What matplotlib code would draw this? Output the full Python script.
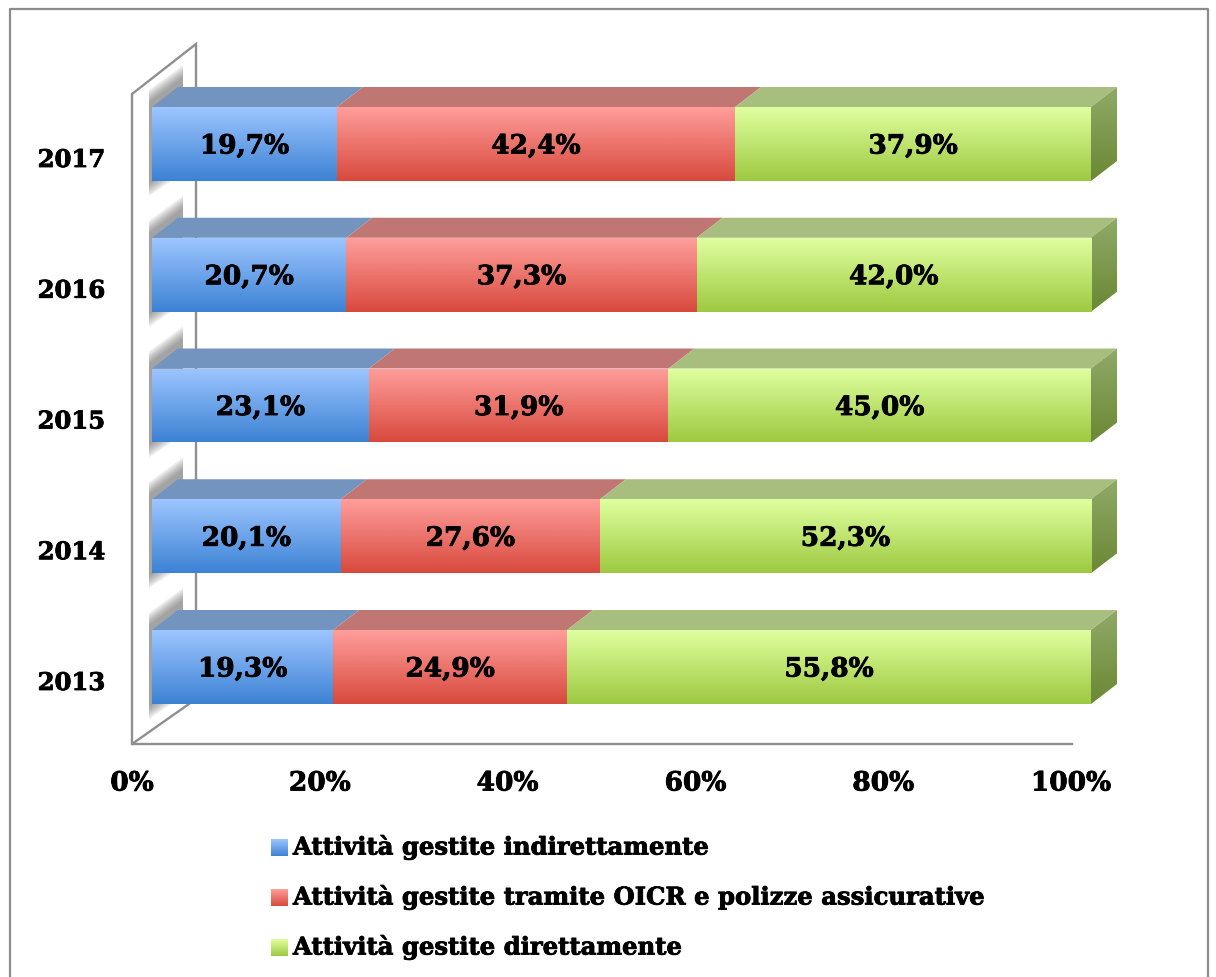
import numpy as np
import matplotlib
matplotlib.use("Agg")
import matplotlib.pyplot as plt
import matplotlib.patheffects as pe
from matplotlib.patches import Polygon, Rectangle
from matplotlib.lines import Line2D
from matplotlib.colors import LinearSegmentedColormap

# data
years = ["2013", "2014", "2015", "2016", "2017"]
indiretta = [19.3, 20.1, 23.1, 20.7, 19.7]
oicr = [24.9, 27.6, 31.9, 37.3, 42.4]
diretta = [55.8, 52.3, 45.0, 42.0, 37.9]
series = [indiretta, oicr, diretta]
series_names = ["Attività gestite indirettamente",
                "Attività gestite tramite OICR e polizze assicurative",
                "Attività gestite direttamente"]
tick_values = [0, 20, 40, 60, 80, 100]

# colours: front top, front bottom, top face
front_top = ["#9dc5ff", "#ff9e9b", "#e0ffa0"]
front_bottom = ["#3c82d4", "#d8493d", "#9dc940"]
top_face = ["#7394bf", "#c07672", "#a7be7f"]
side_top, side_bottom = "#90aa68", "#6a8834"

W, H = 1216, 978
X0, SX = 152, 9.39      # pixel of 0 %, pixels per %
Y0, SY = 668, 130.75    # pixel of first category, pixels per category


def xd(px):
    return (px - X0) / SX


def yd(py):
    return (Y0 - py) / SY


def gradient(ax, extent, top, bottom, clip, z):
    cmap = LinearSegmentedColormap.from_list("g", [bottom, top])
    grad = np.linspace(0, 1, 256).reshape(-1, 1)
    im = ax.imshow(grad, cmap=cmap, extent=extent, origin="lower",
                   aspect="auto", zorder=z, interpolation="bilinear")
    im.set_clip_path(clip)


heavy = [pe.withStroke(linewidth=0.6, foreground="black")]
font = dict(family="DejaVu Serif", weight="bold", fontsize=17.5, path_effects=heavy)
big = dict(font, fontsize=19)

fig = plt.figure(figsize=(W / 100, H / 100), dpi=100)
ax = fig.add_axes([0, 0, 1, 1])
ax.axis("off")

bh = 74 / SY
ddx, ddy = 26 / SX, 20 / SY
wall = "#8f8f8f"

# wall and floor
ax.plot([xd(132), xd(132), xd(196), xd(196)], [yd(745), yd(95), yd(45), yd(700)],
        color=wall, lw=1.7, zorder=1, solid_joinstyle="miter")
ax.plot([xd(1072), xd(132), xd(196)], [yd(745), yd(745), yd(700)],
        color=wall, lw=1.7, zorder=1, solid_joinstyle="miter")

# soft shadows of the bar ends on the wall
for i in range(len(years)):
    yc = Y0 - i * SY
    yt, yb = yc - 37, yc + 37
    for k in range(7):
        e = 2.0 * k
        p = np.array([(149, yb + 3 + e), (149, yt - 5 - e), (183, yt - 30 - e), (183, yb - 20 + e)])
        ax.add_patch(Polygon(np.c_[xd(p[:, 0]), yd(p[:, 1])], closed=True,
                             facecolor="#555555", edgecolor="none", alpha=0.1, zorder=2))

# bars
lefts = np.zeros(len(years))
for j, vals in enumerate(series):
    bars = ax.barh(range(len(years)), vals, left=lefts, height=bh,
                   color="none", edgecolor="none", zorder=4)
    for i, (b, v) in enumerate(zip(bars, vals)):
        l = lefts[i]
        top = i + bh / 2
        ax.add_patch(Polygon([(l, top), (l + v, top), (l + v + ddx, top + ddy), (l + ddx, top + ddy)],
                             closed=True, facecolor=top_face[j], edgecolor="none", zorder=3))
        gradient(ax, (l, l + v, i - bh / 2, top), front_top[j], front_bottom[j], b, 4)
        if j == len(series) - 1:
            r = l + v
            side = Polygon([(r, i - bh / 2), (r, top), (r + ddx, top + ddy), (r + ddx, i - bh / 2 + ddy)],
                           closed=True, facecolor="none", edgecolor="none", zorder=3)
            ax.add_patch(side)
            gradient(ax, (r, r + ddx, i - bh / 2, top + ddy), side_top, side_bottom, side, 3)
        ax.text(l + v / 2, i - 2 / SY, f"{v:.1f}%".replace(".", ","),
                ha="center", va="center", zorder=6, **big)
    lefts = lefts + np.array(vals)

# category labels
for i, y in enumerate(years):
    ax.text(xd(105), i - 16 / SY, y, ha="right", va="center", **font)

# x tick labels along the floor edge
for t in tick_values:
    ax.text(t + xd(132), yd(784), f"{t}%", ha="center", va="center", **big)

# legend
for k, name in enumerate(series_names):
    cy = 848 + 50 * k
    sq = Rectangle((xd(271), yd(cy + 8.5)), 17 / SX, 17 / SY, facecolor="none", edgecolor="none")
    ax.add_patch(sq)
    gradient(ax, (xd(271), xd(288), yd(cy + 8.5), yd(cy - 8.5)), front_top[k], front_bottom[k], sq, 4)
    ax.text(xd(293), yd(cy), name, ha="left", va="center", **font)

ax.set_xlim(xd(0), xd(W))
ax.set_ylim(yd(H), yd(0))

# outer frame
fig.add_artist(Line2D([10 / W, 10 / W, 1208 / W, 1208 / W], [0, 1 - 10 / H, 1 - 10 / H, 0],
                      transform=fig.transFigure, color="#8c8c8c", lw=1.6))

fig.savefig("out.png", dpi=100)
